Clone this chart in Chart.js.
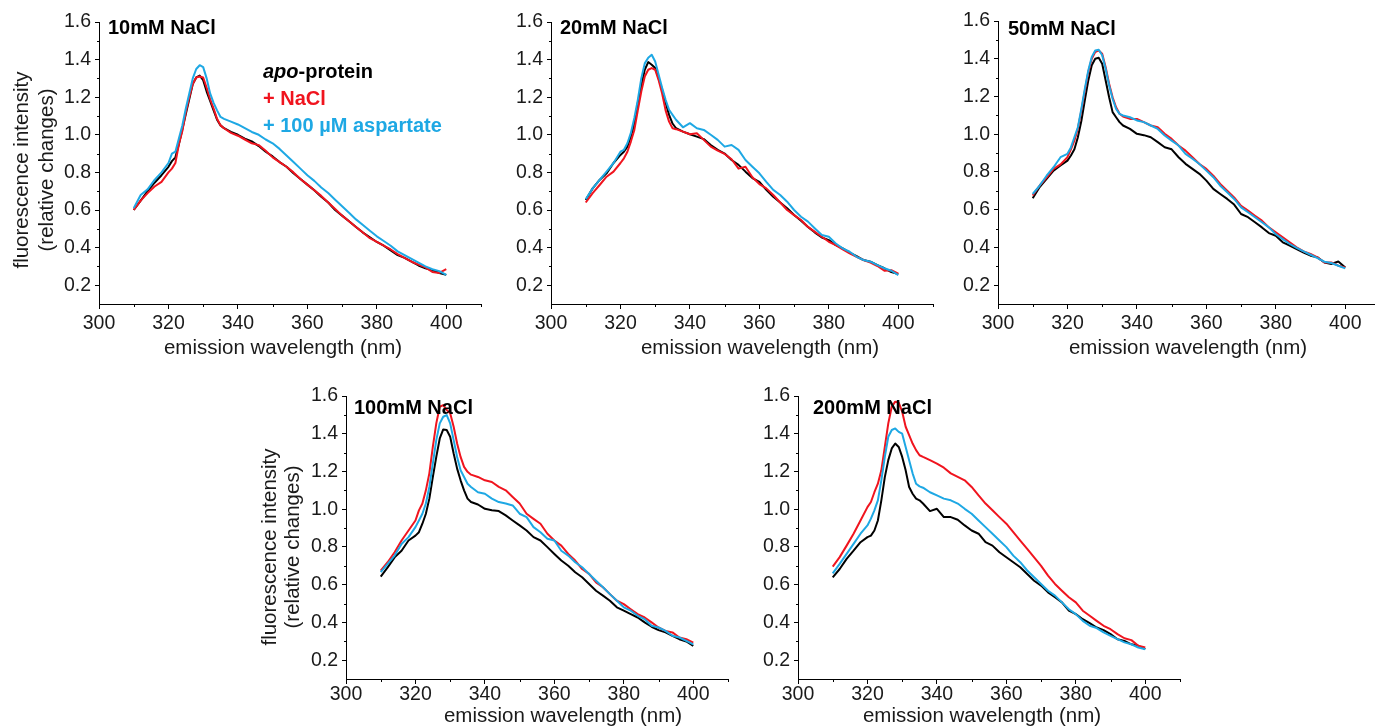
<!DOCTYPE html>
<html>
<head>
<meta charset="utf-8">
<script src="https://cdn.jsdelivr.net/npm/chart.js@4.4.1/dist/chart.umd.min.js"></script>
<style>
  html, body { margin: 0; padding: 0; background: #fff; overflow: hidden; width: 1375px; height: 727px; }
  canvas { position: absolute; }
</style>
</head>
<body>
<script>
// ---------------- DATA ----------------
const wavelengths = [310,312,314,316,318,320,321,322,323,324,325,326,327,328,329,330,331,332,333,334,335,
  336,338,340,342,344,346,348,350,352,354,356,358,360,362,364,366,368,370,372,374,376,378,380,382,384,386,388,390,392,394,396,398,400];

const xTicks = [300,320,340,360,380,400];
const yTicks = [0.2,0.4,0.6,0.8,1.0,1.2,1.4,1.6];

const panelLabels = ['10mM NaCl','20mM NaCl','50mM NaCl','100mM NaCl','200mM NaCl'];
const seriesNames = ['apo-protein','+ NaCl','+ 100 µM aspartate'];

// 10 mM NaCl
const apo10  = [0.60,0.65,0.70,0.745,0.785,0.83, 0.86,0.88,0.95,1.03,1.11,1.19,1.27,1.305,1.315,1.29,1.23,1.18,1.13,1.08,1.05,
  1.035,1.015,1.0,0.98,0.965,0.94,0.91,0.885,0.855,0.83,0.795,0.765,0.735,0.705,0.67,0.64,0.60,0.57,0.54,0.51,0.48,0.455,0.43,0.41,0.385,0.36,0.345,0.325,0.305,0.29,0.28,0.265,0.255];
const nacl10 = [0.60,0.65,0.69,0.725,0.75,0.80, 0.82,0.85,0.95,1.02,1.12,1.20,1.27,1.305,1.31,1.305,1.25,1.19,1.14,1.085,1.05,
  1.035,1.01,0.995,0.975,0.955,0.945,0.915,0.88,0.855,0.83,0.80,0.765,0.735,0.705,0.675,0.64,0.605,0.57,0.54,0.51,0.48,0.45,0.43,0.41,0.39,0.365,0.345,0.325,0.31,0.295,0.27,0.265,0.285];
const asp10  = [0.61,0.68,0.71,0.76,0.80,0.85, 0.90,0.91,0.98,1.05,1.14,1.22,1.30,1.35,1.37,1.36,1.30,1.22,1.17,1.13,1.095,
  1.085,1.07,1.055,1.035,1.015,1.0,0.975,0.955,0.925,0.89,0.855,0.82,0.785,0.755,0.72,0.69,0.655,0.62,0.585,0.55,0.52,0.49,0.46,0.435,0.41,0.38,0.36,0.34,0.32,0.30,0.285,0.275,0.255];

// 20 mM NaCl
const apo20  = [0.653,0.715,0.76,0.795,0.85,0.893, 0.91,0.937,0.99,1.06,1.17,1.26,1.346,1.387,1.373,1.355,1.30,1.24,1.17,1.106,1.06,
  1.035,1.017,1.003,0.99,0.977,0.946,0.92,0.90,0.866,0.84,0.804,0.77,0.75,0.707,0.67,0.64,0.609,0.573,0.543,0.51,0.48,0.454,0.44,0.413,0.396,0.373,0.355,0.334,0.325,0.307,0.29,0.27,0.259];
const nacl20 = [0.64,0.69,0.733,0.777,0.804,0.85, 0.875,0.91,0.964,1.026,1.13,1.23,1.31,1.346,1.355,1.346,1.29,1.22,1.13,1.07,1.035,
  1.03,1.017,1.003,1.008,0.973,0.937,0.916,0.898,0.87,0.82,0.83,0.774,0.738,0.715,0.68,0.64,0.60,0.573,0.547,0.51,0.484,0.458,0.431,0.413,0.39,0.369,0.351,0.334,0.32,0.302,0.277,0.28,0.262];
const asp20  = [0.657,0.715,0.76,0.804,0.85,0.91, 0.92,0.955,1.01,1.09,1.186,1.30,1.38,1.41,1.426,1.39,1.32,1.25,1.186,1.133,1.106,
  1.08,1.04,1.062,1.035,1.026,1.0,0.973,0.937,0.946,0.92,0.866,0.83,0.795,0.75,0.707,0.68,0.644,0.60,0.564,0.538,0.502,0.467,0.458,0.422,0.396,0.378,0.351,0.334,0.325,0.307,0.29,0.277,0.254];

// 50 mM NaCl
const apo50  = [0.66,0.72,0.763,0.807,0.834,0.86, 0.887,0.92,0.984,1.07,1.18,1.285,1.365,1.40,1.405,1.373,1.285,1.196,1.117,1.09,1.064,
  1.046,1.028,1.002,0.995,0.984,0.958,0.931,0.92,0.878,0.843,0.816,0.79,0.754,0.71,0.683,0.657,0.627,0.577,0.56,0.533,0.506,0.476,0.462,0.427,0.41,0.391,0.373,0.356,0.347,0.32,0.312,0.325,0.294];
const nacl50 = [0.675,0.728,0.77,0.816,0.84,0.878, 0.92,0.966,1.03,1.125,1.23,1.33,1.40,1.435,1.444,1.427,1.355,1.267,1.196,1.143,1.108,
  1.094,1.081,1.081,1.064,1.046,1.037,1.002,0.975,0.94,0.913,0.878,0.842,0.816,0.78,0.736,0.70,0.665,0.62,0.595,0.568,0.542,0.506,0.48,0.453,0.427,0.40,0.379,0.365,0.347,0.32,0.32,0.303,0.294];
const asp50  = [0.683,0.728,0.78,0.825,0.878,0.896, 0.93,0.984,1.037,1.134,1.24,1.338,1.409,1.444,1.448,1.418,1.347,1.258,1.188,1.134,1.108,
  1.099,1.09,1.073,1.064,1.046,1.028,0.993,0.966,0.94,0.896,0.87,0.842,0.807,0.772,0.727,0.692,0.657,0.612,0.586,0.56,0.533,0.506,0.47,0.444,0.418,0.397,0.379,0.361,0.343,0.324,0.317,0.303,0.289];

// 100 mM NaCl
const apo100  = [0.643,0.692,0.745,0.78,0.834,0.86, 0.878,0.923,0.976,1.056,1.17,1.277,1.375,1.423,1.42,1.384,1.295,1.215,1.153,1.10,1.056,
  1.038,1.025,1.002,0.994,0.99,0.967,0.94,0.914,0.887,0.852,0.834,0.799,0.763,0.728,0.70,0.666,0.639,0.604,0.568,0.542,0.515,0.48,0.462,0.444,0.426,0.40,0.377,0.359,0.347,0.329,0.311,0.299,0.276];
const nacl100 = [0.674,0.719,0.772,0.834,0.887,0.94, 0.994,1.03,1.10,1.19,1.33,1.455,1.543,1.552,1.526,1.508,1.437,1.348,1.277,1.224,1.198,
  1.183,1.171,1.153,1.144,1.118,1.10,1.065,1.03,0.976,0.949,0.923,0.87,0.834,0.807,0.763,0.728,0.683,0.657,0.612,0.586,0.55,0.515,0.497,0.47,0.444,0.426,0.40,0.373,0.355,0.347,0.32,0.311,0.293];
const asp100  = [0.666,0.71,0.754,0.816,0.852,0.905, 0.94,0.976,1.03,1.118,1.242,1.366,1.455,1.49,1.499,1.455,1.366,1.277,1.206,1.171,1.135,
  1.118,1.09,1.082,1.056,1.038,1.03,1.02,0.976,0.958,0.905,0.878,0.843,0.834,0.78,0.754,0.719,0.692,0.657,0.621,0.586,0.55,0.515,0.48,0.462,0.435,0.417,0.382,0.373,0.355,0.329,0.32,0.302,0.284];

// 200 mM NaCl
const apo200  = [0.639,0.683,0.737,0.78,0.825,0.852, 0.86,0.887,0.94,1.047,1.17,1.26,1.322,1.348,1.33,1.277,1.206,1.118,1.082,1.056,1.047,
  1.03,0.99,1.002,0.958,0.958,0.944,0.914,0.887,0.87,0.825,0.807,0.772,0.745,0.719,0.692,0.657,0.621,0.595,0.559,0.533,0.506,0.462,0.444,0.417,0.396,0.373,0.359,0.338,0.311,0.302,0.284,0.276,0.258];
const nacl200 = [0.696,0.746,0.807,0.87,0.94,1.011, 1.038,1.09,1.135,1.206,1.33,1.455,1.543,1.57,1.565,1.517,1.437,1.393,1.348,1.313,1.286,
  1.277,1.26,1.242,1.22,1.19,1.171,1.153,1.118,1.073,1.03,0.994,0.958,0.923,0.878,0.834,0.79,0.745,0.70,0.648,0.604,0.568,0.533,0.506,0.462,0.435,0.408,0.382,0.364,0.338,0.316,0.306,0.276,0.267];
const asp200  = [0.66,0.71,0.763,0.816,0.87,0.914, 0.95,0.994,1.047,1.153,1.277,1.384,1.42,1.428,1.41,1.40,1.33,1.26,1.19,1.135,1.121,
  1.114,1.09,1.073,1.056,1.047,1.03,1.002,0.976,0.94,0.905,0.87,0.834,0.799,0.754,0.719,0.675,0.639,0.604,0.568,0.542,0.506,0.47,0.444,0.408,0.382,0.37,0.347,0.329,0.311,0.294,0.284,0.267,0.258];

// ---------------- STYLE / LAYOUT ----------------
const FONT = "'Liberation Sans', Arial, Helvetica, sans-serif";
const COL_APO = '#000000', COL_NACL = '#f0141e', COL_ASP = '#1ea8e4';
const AREA_W = 382, PAD_L = 99, PAD_T = 22, PAD_R = 10, PAD_B = 62, YAXIS_W = 40, XAXIS_H = 30;

const panels = [
  { data:[apo10, nacl10, asp10],    x0:99,  top:22,  bottom:304, yTitle:[22,47,170],   xTitle:[283,348],  xPad:3,  labelPos:[108,28],  legend:true },
  { data:[apo20, nacl20, asp20],    x0:551, top:22,  bottom:304, yTitle:null,          xTitle:[760,348],  xPad:3,  labelPos:[560,28] },
  { data:[apo50, nacl50, asp50],    x0:998, top:21,  bottom:304, yTitle:null,          xTitle:[1188,348], xPad:3,  labelPos:[1008,29] },
  { data:[apo100, nacl100, asp100], x0:346, top:396, bottom:679, yTitle:[270,293,547], xTitle:[563,716],  xPad:-1, labelPos:[354,408] },
  { data:[apo200, nacl200, asp200], x0:798, top:396, bottom:679, yTitle:null,          xTitle:[982,716],  xPad:-1, labelPos:[813,408] }
];

function pts(arr) { return wavelengths.map((w, i) => ({ x: w, y: arr[i] })); }

const decorPlugin = {
  id: 'decor',
  afterDraw(chart) {
    const o = chart.options.plugins.decor;
    const ctx = chart.ctx;
    const xs = chart.scales.x, ys = chart.scales.y;
    ctx.save();
    // minor ticks
    ctx.strokeStyle = '#000'; ctx.lineWidth = 1;
    ctx.beginPath();
    [310,330,350,370,390,410].forEach(v => {
      const px = Math.round(xs.getPixelForValue(v)) + 0.5;
      ctx.moveTo(px, xs.top); ctx.lineTo(px, xs.top + 3);
    });
    [0.3,0.5,0.7,0.9,1.1,1.3,1.5].forEach(v => {
      const py = Math.round(ys.getPixelForValue(v)) + 0.5;
      ctx.moveTo(ys.right, py); ctx.lineTo(ys.right - 2, py);
    });
    ctx.stroke();

    // x axis title
    ctx.fillStyle = '#1a1a1a';
    ctx.font = '20.5px ' + FONT;
    ctx.textAlign = 'center'; ctx.textBaseline = 'middle';
    ctx.fillText('emission wavelength (nm)', o.xTitle[0] - o.ox, o.xTitle[1] - o.oy);

    // y axis title
    if (o.yTitle) {
      const [l1, l2, cy] = o.yTitle;
      [[l1, 'fluorescence intensity'], [l2, '(relative changes)']].forEach(([x, t]) => {
        ctx.save();
        ctx.translate(x - o.ox, cy - o.oy);
        ctx.rotate(-Math.PI / 2);
        ctx.fillText(t, 0, 0);
        ctx.restore();
      });
    }

    // panel label
    ctx.fillStyle = '#000';
    ctx.font = 'bold 20px ' + FONT;
    ctx.textAlign = 'left';
    ctx.fillText(o.label, o.labelPos[0] - o.ox, o.labelPos[1] - o.oy);

    // legend
    if (o.legend) {
      const lx = 263 - o.ox;
      ctx.font = 'italic bold 20px ' + FONT;
      ctx.fillStyle = COL_APO;
      const italicPart = seriesNames[0].split('-')[0];
      ctx.fillText(italicPart, lx, 72 - o.oy);
      const w = ctx.measureText(italicPart).width;
      ctx.font = 'bold 20px ' + FONT;
      ctx.fillText(seriesNames[0].slice(italicPart.length), lx + w, 72 - o.oy);
      ctx.fillStyle = COL_NACL;
      ctx.fillText(seriesNames[1], lx, 99 - o.oy);
      ctx.fillStyle = COL_ASP;
      ctx.fillText(seriesNames[2], lx, 126.5 - o.oy);
    }
    ctx.restore();
  }
};

panels.forEach((p, idx) => {
  const ch = p.bottom - p.top;
  const cv = document.createElement('canvas');
  const left = p.x0 - PAD_L, top = p.top - PAD_T;
  const W = PAD_L + AREA_W + PAD_R, H = PAD_T + ch + PAD_B;
  cv.width = W; cv.height = H;
  cv.style.left = left + 'px'; cv.style.top = top + 'px';
  cv.style.width = W + 'px'; cv.style.height = H + 'px';
  document.body.appendChild(cv);

  const [apo, nacl, asp] = p.data;
  new Chart(cv, {
    type: 'line',
    data: {
      datasets: [
        { label: seriesNames[2], data: pts(asp),  borderColor: COL_ASP,  borderWidth: 2 },
        { label: seriesNames[1], data: pts(nacl), borderColor: COL_NACL, borderWidth: 2 },
        { label: seriesNames[0], data: pts(apo),  borderColor: COL_APO,  borderWidth: 2 }
      ]
    },
    options: {
      responsive: false,
      animation: false,
      devicePixelRatio: 1,
      elements: { point: { radius: 0 }, line: { tension: 0, borderJoinStyle: 'round' } },
      layout: { padding: { left: PAD_L - YAXIS_W, top: PAD_T, right: PAD_R, bottom: H - PAD_T - ch - XAXIS_H } },
      plugins: {
        legend: { display: false },
        tooltip: { enabled: false },
        decor: {
          ox: left, oy: top, xTitle: [p.xTitle[0], p.xTitle[1]],
          yTitle: p.yTitle ? [p.yTitle[0], p.yTitle[1], p.yTitle[2]] : null,
          labelPos: p.labelPos, label: panelLabels[idx], legend: !!p.legend
        }
      },
      scales: {
        x: {
          type: 'linear', min: 300, max: 410,
          afterFit: s => { s.height = XAXIS_H; },
          afterBuildTicks: s => { s.ticks = xTicks.map(v => ({ value: v })); },
          border: { display: true, color: '#000', width: 1 },
          grid: { display: true, drawOnChartArea: false, drawTicks: true, tickLength: 5, tickColor: '#000', tickWidth: 1 },
          ticks: { color: '#1a1a1a', font: { family: FONT, size: 19.5 }, padding: p.xPad, maxRotation: 0, autoSkip: false,
                   callback: v => String(v) }
        },
        y: {
          type: 'linear', min: 0.1, max: 1.6,
          afterFit: s => { s.width = YAXIS_W; },
          afterBuildTicks: s => { s.ticks = yTicks.map(v => ({ value: v })); },
          border: { display: true, color: '#000', width: 1 },
          grid: { display: true, drawOnChartArea: false, drawTicks: true, tickLength: 4, tickColor: '#000', tickWidth: 1 },
          ticks: { color: '#1a1a1a', font: { family: FONT, size: 19.5 }, padding: 4, autoSkip: false,
                   callback: v => Number(v).toFixed(1) }
        }
      }
    },
    plugins: [decorPlugin]
  });
});
</script>
</body>
</html>
